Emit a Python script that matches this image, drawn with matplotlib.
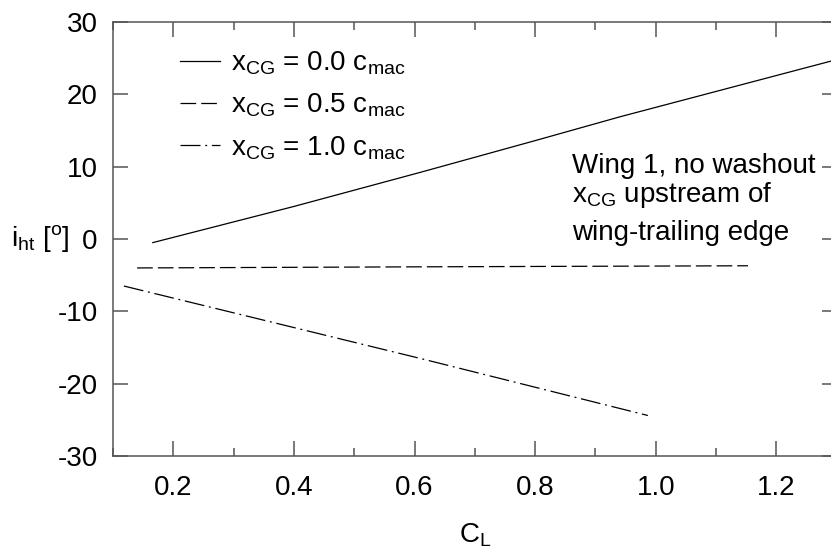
import matplotlib
matplotlib.use("Agg")
import matplotlib.pyplot as plt
from matplotlib.ticker import MultipleLocator

plt.rcParams['font.family'] = ['Liberation Sans', 'DejaVu Sans']
plt.rcParams['mathtext.default'] = 'regular'
plt.rcParams['lines.scale_dashes'] = False
plt.rcParams['axes.unicode_minus'] = False

# Data
cl_00 = [0.166, 0.40, 0.609, 0.80, 0.941, 1.30]
ih_00 = [-0.5, 4.5, 9.2, 13.6, 16.9, 24.8]
cl_05 = [0.14, 0.60, 1.153]
ih_05 = [-4.0, -3.85, -3.7]
cl_10 = [0.118, 0.609, 0.987]
ih_10 = [-6.5, -16.5, -24.4]

labels = [r'$x_{CG}$ = 0.0 $c_{mac}$',
          r'$x_{CG}$ = 0.5 $c_{mac}$',
          r'$x_{CG}$ = 1.0 $c_{mac}$']
xticks = [0.2, 0.4, 0.6, 0.8, 1.0, 1.2]
xticklabels = ['0.2', '0.4', '0.6', '0.8', '1.0', '1.2']
yticks = [-30, -20, -10, 0, 10, 20, 30]
note_lines = ['Wing 1, no washout', r'$x_{CG}$ upstream of', 'wing-trailing edge']

W, H = 831, 555
fig = plt.figure(figsize=(W/100, H/100), dpi=100)
ax = fig.add_axes([113/W, (H-456)/H, (836.6-113)/W, (456-22)/H])

lw = 0.9
l0, = ax.plot(cl_00, ih_00, color='black', lw=lw, linestyle='-', label=labels[0])
l1, = ax.plot(cl_05, ih_05, color='black', lw=lw, linestyle=(0, (11.3, 3.6)), label=labels[1])
l2, = ax.plot(cl_10, ih_10, color='black', lw=lw, linestyle=(0, (14.4, 3.4, 1.4, 3.4)), label=labels[2])

ax.set_xlim(0.1, 1.3)
ax.set_ylim(-30, 30)
ax.set_xticks(xticks)
ax.set_xticklabels(xticklabels)
ax.xaxis.set_minor_locator(MultipleLocator(0.1))
ax.set_yticks(yticks)

spine_c = '#555555'
for s in ax.spines.values():
    s.set_color(spine_c)
    s.set_linewidth(1.1)
ax.tick_params(which='both', direction='in', top=True, right=True, color=spine_c, width=1.1)
ax.tick_params(which='major', length=10.5, labelsize=20)
ax.tick_params(which='minor', length=5.5)
ax.tick_params(axis='x', which='major', pad=14)
ax.tick_params(axis='y', which='major', pad=11)

leg = ax.legend(handles=[l0, l1, l2], loc='upper left', bbox_to_anchor=(0.077, 0.962),
                frameon=False, fontsize=20, handlelength=1.45, handletextpad=0.38,
                labelspacing=0.53, borderaxespad=0)

tx = (571.7 - 113) / 723.6
for line, yb in zip(note_lines, [173, 202, 240]):
    ax.text(tx, (456 - yb) / 434, line, transform=ax.transAxes, fontsize=20,
            va='baseline', ha='left')

fig.text(40/W, 1-238/H, r'$i_{ht}$ [$^{o}$]', fontsize=20, ha='center', va='center')
fig.text(475/W, 1-535/H, r'$C_L$', fontsize=20, ha='center', va='center')

fig.savefig('out.png', dpi=100)
